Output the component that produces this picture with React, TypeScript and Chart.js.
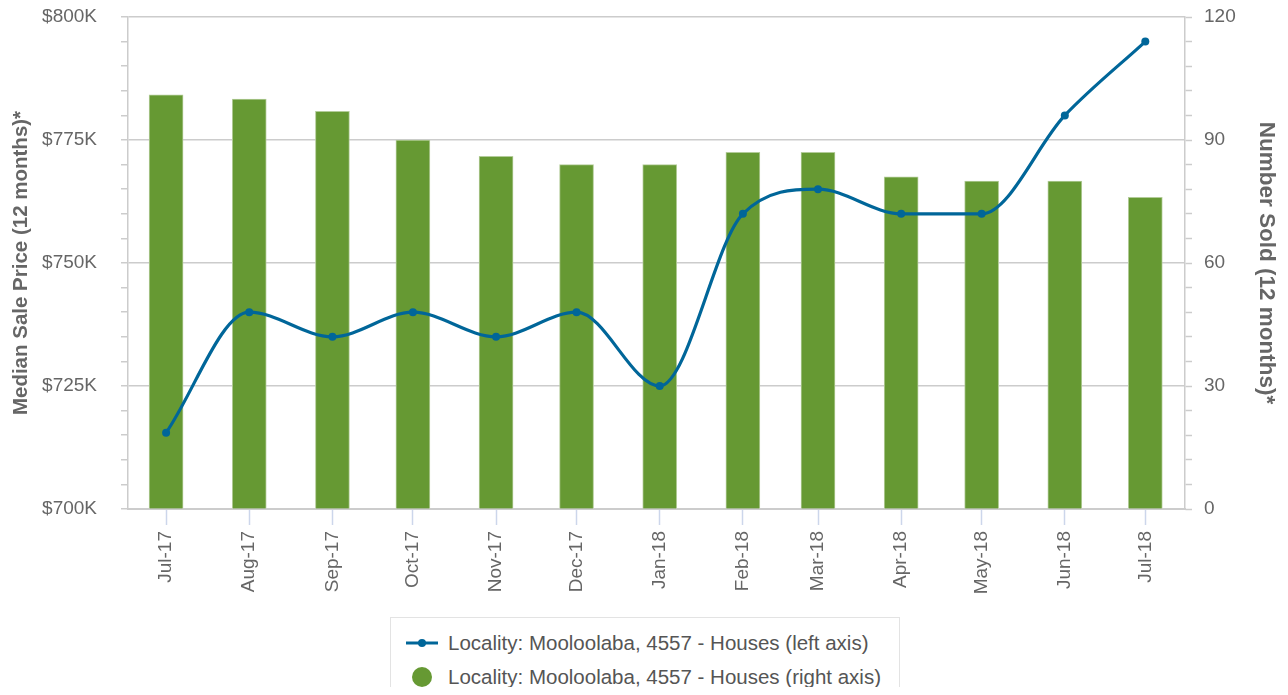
import React, { useEffect, useRef } from "react";
import { Chart, registerables } from "chart.js";

Chart.register(...registerables);

const dates = [
  "2017-07-01", "2017-08-01", "2017-09-01", "2017-10-01", "2017-11-01", "2017-12-01",
  "2018-01-01", "2018-02-01", "2018-03-01", "2018-04-01", "2018-05-01", "2018-06-01", "2018-07-01",
];
const monthLabels = [
  "Jul-17", "Aug-17", "Sep-17", "Oct-17", "Nov-17", "Dec-17",
  "Jan-18", "Feb-18", "Mar-18", "Apr-18", "May-18", "Jun-18", "Jul-18",
];
const medianPrice = [715500, 740000, 735000, 740000, 735000, 740000, 725000, 760000, 765000, 760000, 760000, 780000, 795000];
const numberSold = [101, 100, 97, 90, 86, 84, 84, 87, 87, 81, 80, 80, 76];

const lineLabel = "Locality: Mooloolaba, 4557 - Houses (left axis)";
const barLabel = "Locality: Mooloolaba, 4557 - Houses (right axis)";
const leftTitle = "Median Sale Price (12 months)*";
const rightTitle = "Number Sold (12 months)*";

const LINE_COLOR = "#006699";
const BAR_COLOR = "#669933";
const TEXT = "#666666";
const FONT = '"Liberation Sans", Arial, Helvetica, sans-serif';
const DAY = 86400000;

const zeroPad = (s: any) => {
  s.paddingTop = 0;
  s.paddingBottom = 0;
  s.paddingLeft = 0;
  s.paddingRight = 0;
};

export default function App() {
  const ref = useRef<HTMLCanvasElement>(null);

  useEffect(() => {
    Chart.defaults.font.family = FONT;
    const xs = dates.map((d) => Date.parse(d + "T00:00:00Z"));
    const chart = new Chart(ref.current as HTMLCanvasElement, {
      type: "bar",
      data: {
        datasets: [
          {
            type: "line",
            label: lineLabel,
            data: xs.map((x, i) => ({ x, y: medianPrice[i] })),
            yAxisID: "y",
            borderColor: LINE_COLOR,
            backgroundColor: LINE_COLOR,
            borderWidth: 3.2,
            pointRadius: 4,
            pointBorderWidth: 0,
            pointBackgroundColor: LINE_COLOR,
            cubicInterpolationMode: "monotone",
            order: 0,
          } as any,
          {
            type: "bar",
            label: barLabel,
            data: xs.map((x, i) => ({ x, y: numberSold[i] })),
            yAxisID: "y1",
            backgroundColor: BAR_COLOR,
            borderColor: "#b3cc99",
            borderWidth: 1,
            barThickness: 34,
            order: 1,
          } as any,
        ],
      },
      options: {
        responsive: true,
        maintainAspectRatio: false,
        animation: false,
        layout: { padding: { top: 9, left: 0, right: 0, bottom: 0 } },
        plugins: { legend: { display: false }, tooltip: { enabled: false } },
        scales: {
          x: {
            type: "linear",
            offset: false,
            min: xs[0] - 14.2 * DAY,
            max: xs[xs.length - 1] + 14.8 * DAY,
            afterBuildTicks: (s: any) => {
              s.ticks = xs.map((v) => ({ value: v }));
            },
            afterFit: (s: any) => {
              zeroPad(s);
              s.height = 99;
            },
            ticks: {
              autoSkip: false,
              minRotation: 90,
              maxRotation: 90,
              padding: 6,
              color: TEXT,
              font: { size: 19 },
              callback: (v: any) => {
                const i = xs.indexOf(Number(v));
                return i >= 0 ? monthLabels[i] : "";
              },
            },
            grid: {
              offset: false,
              drawOnChartArea: false,
              drawTicks: true,
              tickLength: 16,
              tickColor: "#ccd6eb",
              tickWidth: 1.5,
            },
            border: { display: true, color: "#cccccc", width: 2 },
          } as any,
          y: {
            type: "linear",
            position: "left",
            min: 700000,
            max: 800000,
            afterFit: (s: any) => {
              zeroPad(s);
              s.width = 120;
            },
            ticks: {
              count: 21,
              autoSkip: false,
              padding: 24,
              color: TEXT,
              font: { size: 19 },
              callback: (v: any) => (Math.round(Number(v)) % 25000 === 0 ? "$" + Math.round(Number(v) / 1000) + "K" : ""),
            },
            grid: {
              color: (ctx: any) =>
                ctx.tick && Math.round(ctx.tick.value) % 25000 === 0 ? "#cccccc" : "rgba(0,0,0,0)",
              lineWidth: 1.5,
              tickColor: "#cccccc",
              tickLength: 7,
              tickWidth: 1.5,
            },
            border: { display: true, color: "#cccccc", width: 1.5 },
            title: {
              display: true,
              text: leftTitle,
              color: TEXT,
              font: { size: 20.5, weight: "bold" },
              padding: { top: 1, bottom: 0 },
            },
          } as any,
          y1: {
            type: "linear",
            position: "right",
            min: 0,
            max: 120,
            afterFit: (s: any) => {
              zeroPad(s);
              s.width = 95;
            },
            ticks: {
              count: 21,
              autoSkip: false,
              padding: 12,
              color: TEXT,
              font: { size: 19 },
              callback: (v: any) => (Math.round(Number(v)) % 30 === 0 ? String(Math.round(Number(v))) : ""),
            },
            grid: {
              drawOnChartArea: false,
              tickColor: "#cccccc",
              tickLength: 7,
              tickWidth: 1.5,
            },
            border: { display: true, color: "#cccccc", width: 1.5 },
            title: {
              display: true,
              text: rightTitle,
              color: TEXT,
              font: { size: 22.5, weight: "bold" },
              padding: { top: 0, bottom: 0 },
            },
          } as any,
        },
      },
    });
    return () => chart.destroy();
  }, []);

  const textStyle: React.CSSProperties = {
    position: "absolute",
    left: 57,
    fontFamily: FONT,
    fontSize: 20.5,
    color: "#555555",
    whiteSpace: "nowrap",
    lineHeight: "24px",
  };

  return (
    <div style={{ position: "relative", width: 1272, height: 687, marginBottom: -8, overflow: "hidden" }}>
      <div style={{ position: "absolute", left: 0, top: 0, width: 1272, height: 600 }}>
        <canvas ref={ref} />
      </div>
      <div
        style={{
          position: "absolute",
          left: 382,
          top: 609,
          width: 510,
          height: 100,
          border: "1px solid #e3e3e3",
          boxSizing: "border-box",
          background: "#ffffff",
        }}
      >
        <svg style={{ position: "absolute", left: 14, top: 8 }} width="34" height="34">
          <line x1="1" y1="17" x2="33" y2="17" stroke={LINE_COLOR} strokeWidth="3" />
          <circle cx="17" cy="17" r="4" fill={LINE_COLOR} />
        </svg>
        <svg style={{ position: "absolute", left: 20, top: 48 }} width="22" height="22">
          <circle cx="11" cy="11" r="10" fill={BAR_COLOR} />
        </svg>
        <div style={{ ...textStyle, top: 13 }}>{lineLabel}</div>
        <div style={{ ...textStyle, top: 47 }}>{barLabel}</div>
      </div>
    </div>
  );
}
